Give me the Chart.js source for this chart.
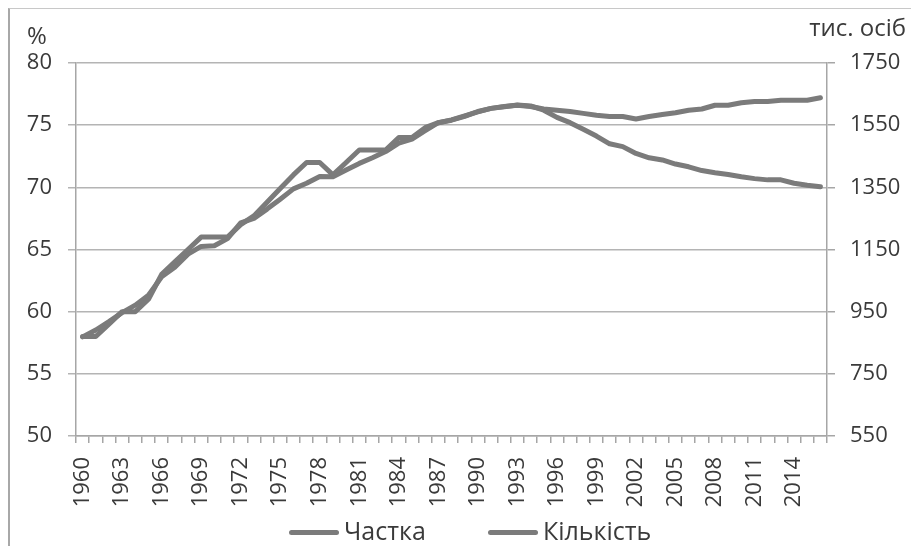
<!DOCTYPE html>
<html>
<head>
<meta charset="utf-8">
<script src="https://cdn.jsdelivr.net/npm/chart.js@4.4.1/dist/chart.umd.min.js"></script>
<style>
  body { margin: 0; background: #fff; }
  #wrap { position: relative; width: 911px; height: 546px; overflow: hidden; }
  #frame { position: absolute; left: 8px; top: 8px; right: -5px; bottom: -5px;
    border-left: 2px solid #a8a8a8; border-top: 1px solid #c8c8c8; }
  #chart { position: absolute; left: 0; top: 0; }
  .lg { position: absolute; top: 513px; height: 32px; line-height: 32px;
    font: 25px "Open Sans", sans-serif; color: #3a3a3a; white-space: nowrap; }
  .lg i { display: inline-block; width: 50px; height: 5px; border-radius: 3px;
    background: #7b7b7b; vertical-align: middle; margin-right: 5px; position: relative; top: -1px; }
</style>
</head>
<body>
<div id="wrap">
  <div id="frame"></div>
  <canvas id="chart" width="911" height="546"></canvas>
  <div class="lg" style="left:289px"><i></i>Частка</div>
  <div class="lg" style="left:488px"><i></i>Кількість</div>
</div>
<script>
// years 1960..2016
const years = [
  '1960', '1961', '1962', '1963', '1964', '1965', '1966', '1967', '1968', '1969',
  '1970', '1971', '1972', '1973', '1974', '1975', '1976', '1977', '1978', '1979',
  '1980', '1981', '1982', '1983', '1984', '1985', '1986', '1987', '1988', '1989',
  '1990', '1991', '1992', '1993', '1994', '1995', '1996', '1997', '1998', '1999',
  '2000', '2001', '2002', '2003', '2004', '2005', '2006', '2007', '2008', '2009',
  '2010', '2011', '2012', '2013', '2014', '2015', '2016',
];

// share of urban population, % (left axis)
const share = [
  58, 58, 59, 60, 60, 61, 63, 64, 65, 66,
  66, 66, 67, 67.7, 68.8, 69.9, 71, 72, 72, 71,
  72, 73, 73, 73, 74, 74, 74.8, 75.2, 75.4, 75.7,
  76.1, 76.35, 76.5, 76.6, 76.5, 76.3, 76.2, 76.1, 75.95, 75.8,
  75.7, 75.7, 75.5, 75.7, 75.85, 76.0, 76.2, 76.3, 76.6, 76.6,
  76.8, 76.9, 76.9, 77.0, 77.0, 77.0, 77.2,
];

// urban population, thousand people (right axis)
const count = [
  869, 891, 918, 947, 971, 1003, 1062, 1093, 1135, 1160,
  1162, 1185, 1236, 1250, 1280, 1312, 1345, 1363, 1385, 1384,
  1406, 1427, 1445, 1465, 1492, 1505, 1532, 1558, 1567, 1580,
  1593, 1604, 1609, 1615, 1612, 1598, 1575, 1558, 1537, 1515,
  1490, 1481, 1459, 1445, 1438, 1425, 1416, 1404, 1397, 1391,
  1384, 1378, 1374, 1374, 1363, 1357, 1352,
];

const leftTicks = { min: 50, max: 80, step: 5 };
const rightTicks = { min: 550, max: 1750, step: 200 };

const TEXT = '#3a3a3a';
const GRID = '#b4b4b4';
const AXIS = '#a6a6a6';
const LINE = '#7b7b7b';
const FONT = { family: '"Open Sans", sans-serif', size: 22 };

const unitTitles = {
  id: 'unitTitles',
  afterDraw(chart) {
    const ctx = chart.ctx;
    ctx.save();
    ctx.fillStyle = TEXT;
    ctx.font = '24px "Open Sans", sans-serif';
    ctx.textBaseline = 'middle';
    ctx.textAlign = 'left';
    ctx.fillText('%', 27, 37);
    ctx.textAlign = 'right';
    ctx.fillText('тис. осіб', 906, 29);
    ctx.restore();
  },
};

const lineStyle = {
  borderColor: LINE,
  backgroundColor: LINE,
  borderWidth: 5,
  pointRadius: 0,
  tension: 0,
  borderJoinStyle: 'round',
  borderCapStyle: 'round',
  fill: false,
};

new Chart(document.getElementById('chart'), {
  type: 'line',
  data: {
    labels: years,
    datasets: [
      { label: 'Частка', data: share, yAxisID: 'y', ...lineStyle },
      { label: 'Кількість', data: count, yAxisID: 'y1', ...lineStyle },
    ],
  },
  options: {
    responsive: false,
    animation: false,
    devicePixelRatio: 1,
    layout: { padding: { top: 63, left: 0, right: 0, bottom: 0 } },
    plugins: { legend: { display: false }, tooltip: { enabled: false } },
    scales: {
      x: {
        offset: true,
        grid: { offset: true, drawOnChartArea: false, tickLength: 7, color: AXIS, lineWidth: 1.5 },
        border: { display: true, color: AXIS, width: 1.5 },
        ticks: {
          autoSkip: false,
          minRotation: 90,
          maxRotation: 90,
          padding: 14,
          color: TEXT,
          font: FONT,
          callback: (v, i) => (i % 3 === 0 ? years[i] : ''),
        },
        afterFit: (s) => { s.height = 110; },
      },
      y: {
        position: 'left',
        min: leftTicks.min,
        max: leftTicks.max,
        ticks: { stepSize: leftTicks.step, padding: 16, color: TEXT, font: FONT },
        grid: { color: GRID, lineWidth: 1.5, tickLength: 8 },
        border: { display: true, color: AXIS, width: 1.5 },
        afterFit: (s) => { s.width = 76; },
      },
      y1: {
        position: 'right',
        min: rightTicks.min,
        max: rightTicks.max,
        ticks: { stepSize: rightTicks.step, padding: 15, color: TEXT, font: FONT, callback: (v) => String(v) },
        grid: { drawOnChartArea: false, color: AXIS, lineWidth: 1.5, tickLength: 8 },
        border: { display: true, color: AXIS, width: 1.5 },
        afterFit: (s) => { s.width = 84; },
      },
    },
  },
  plugins: [unitTitles],
});
</script>
</body>
</html>
